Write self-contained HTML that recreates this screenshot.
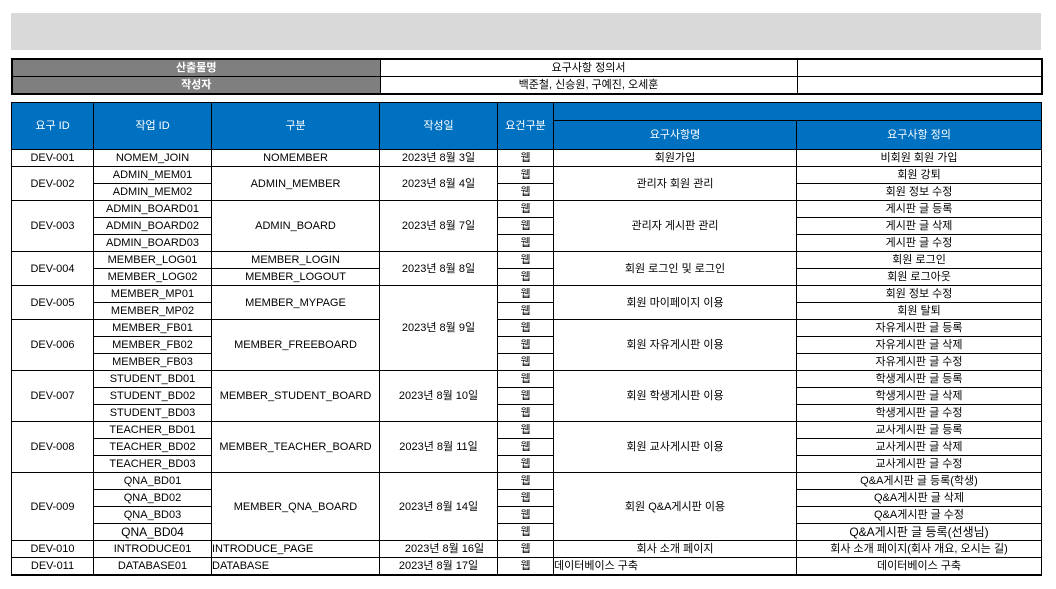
<!DOCTYPE html>
<html><head><meta charset="utf-8"><style>
body{margin:0;width:1056px;height:589px;background:#fff;font-family:"Liberation Sans","Noto Sans CJK KR",sans-serif;font-size:11px;color:#000;position:relative;overflow:hidden}
.bar{position:absolute;left:11px;top:13px;width:1030px;height:37px;background:#d9d9d9}
table{border-collapse:collapse;table-layout:fixed;position:absolute;left:11px}
td{border:1px solid #000;text-align:center;padding:0;white-space:nowrap;overflow:hidden;line-height:14px}
#info{top:58px;width:1030px;border:2px solid #000}
#info td{height:16px}
#info .lab{background:#7f7f7f;color:#fff;font-weight:bold}
#main{top:102px;width:1030px;border-bottom:2px solid #000}
#main .h{background:#0070c0;color:#fff}
#main tr{height:17px}
#main td{height:16px}
.l{text-align:left!important}
</style></head><body>
<div class="bar"></div>
<table id="info">
<colgroup><col style="width:368px"><col style="width:417px"><col style="width:245px"></colgroup>
<tr><td class="lab">산출물명</td><td>요구사항 정의서</td><td></td></tr>
<tr><td class="lab">작성자</td><td>백준철, 신승원, 구예진, 오세훈</td><td></td></tr>
</table>
<table id="main">
<colgroup><col style="width:82px"><col style="width:118px"><col style="width:168px"><col style="width:118px"><col style="width:56px"><col style="width:243px"><col style="width:245px"></colgroup>
<tr style="height:18px"><td class="h" rowspan="2">요구 ID</td><td class="h" rowspan="2">작업 ID</td><td class="h" rowspan="2">구분</td><td class="h" rowspan="2">작성일</td><td class="h" rowspan="2">요건구분</td><td class="h" colspan="2" style="height:17px"></td></tr>
<tr style="height:29px"><td class="h" style="height:28px">요구사항명</td><td class="h">요구사항 정의</td></tr>
<tr><td>DEV-001</td><td>NOMEM_JOIN</td><td>NOMEMBER</td><td>2023년 8월 3일</td><td>웹</td><td>회원가입</td><td>비회원 회원 가입</td></tr>
<tr><td rowspan="2">DEV-002</td><td>ADMIN_MEM01</td><td rowspan="2">ADMIN_MEMBER</td><td rowspan="2">2023년 8월 4일</td><td>웹</td><td rowspan="2">관리자 회원 관리</td><td>회원 강퇴</td></tr>
<tr><td>ADMIN_MEM02</td><td>웹</td><td>회원 정보 수정</td></tr>
<tr><td rowspan="3">DEV-003</td><td>ADMIN_BOARD01</td><td rowspan="3">ADMIN_BOARD</td><td rowspan="3">2023년 8월 7일</td><td>웹</td><td rowspan="3">관리자 게시판 관리</td><td>게시판 글 등록</td></tr>
<tr><td>ADMIN_BOARD02</td><td>웹</td><td>게시판 글 삭제</td></tr>
<tr><td>ADMIN_BOARD03</td><td>웹</td><td>게시판 글 수정</td></tr>
<tr><td rowspan="2">DEV-004</td><td>MEMBER_LOG01</td><td>MEMBER_LOGIN</td><td rowspan="2">2023년 8월 8일</td><td>웹</td><td rowspan="2">회원 로그인 및 로그인</td><td>회원 로그인</td></tr>
<tr><td>MEMBER_LOG02</td><td>MEMBER_LOGOUT</td><td>웹</td><td>회원 로그아웃</td></tr>
<tr><td rowspan="2">DEV-005</td><td>MEMBER_MP01</td><td rowspan="2">MEMBER_MYPAGE</td><td rowspan="5">2023년 8월 9일</td><td>웹</td><td rowspan="2">회원 마이페이지 이용</td><td>회원 정보 수정</td></tr>
<tr><td>MEMBER_MP02</td><td>웹</td><td>회원 탈퇴</td></tr>
<tr><td rowspan="3">DEV-006</td><td>MEMBER_FB01</td><td rowspan="3">MEMBER_FREEBOARD</td><td>웹</td><td rowspan="3">회원 자유게시판 이용</td><td>자유게시판 글 등록</td></tr>
<tr><td>MEMBER_FB02</td><td>웹</td><td>자유게시판 글 삭제</td></tr>
<tr><td>MEMBER_FB03</td><td>웹</td><td>자유게시판 글 수정</td></tr>
<tr><td rowspan="3">DEV-007</td><td>STUDENT_BD01</td><td rowspan="3">MEMBER_STUDENT_BOARD</td><td rowspan="3">2023년 8월 10일</td><td>웹</td><td rowspan="3">회원 학생게시판 이용</td><td>학생게시판 글 등록</td></tr>
<tr><td>STUDENT_BD02</td><td>웹</td><td>학생게시판 글 삭제</td></tr>
<tr><td>STUDENT_BD03</td><td>웹</td><td>학생게시판 글 수정</td></tr>
<tr><td rowspan="3">DEV-008</td><td>TEACHER_BD01</td><td rowspan="3">MEMBER_TEACHER_BOARD</td><td rowspan="3">2023년 8월 11일</td><td>웹</td><td rowspan="3">회원 교사게시판 이용</td><td>교사게시판 글 등록</td></tr>
<tr><td>TEACHER_BD02</td><td>웹</td><td>교사게시판 글 삭제</td></tr>
<tr><td>TEACHER_BD03</td><td>웹</td><td>교사게시판 글 수정</td></tr>
<tr><td rowspan="4">DEV-009</td><td>QNA_BD01</td><td rowspan="4">MEMBER_QNA_BOARD</td><td rowspan="4">2023년 8월 14일</td><td>웹</td><td rowspan="4">회원 Q&amp;A게시판 이용</td><td>Q&amp;A게시판 글 등록(학생)</td></tr>
<tr><td>QNA_BD02</td><td>웹</td><td>Q&amp;A게시판 글 삭제</td></tr>
<tr><td>QNA_BD03</td><td>웹</td><td>Q&amp;A게시판 글 수정</td></tr>
<tr><td style="font-size:12px">QNA_BD04</td><td>웹</td><td style="font-size:12px">Q&amp;A게시판 글 등록(선생님)</td></tr>
<tr><td>DEV-010</td><td>INTRODUCE01</td><td class="l">INTRODUCE_PAGE</td><td style="padding-left:12px">2023년 8월 16일</td><td>웹</td><td>회사 소개 페이지</td><td>회사 소개 페이지(회사 개요, 오시는 길)</td></tr>
<tr><td>DEV-011</td><td>DATABASE01</td><td class="l">DATABASE</td><td>2023년 8월 17일</td><td>웹</td><td class="l">데이터베이스 구축</td><td>데이터베이스 구축</td></tr>
</table>
</body></html>
